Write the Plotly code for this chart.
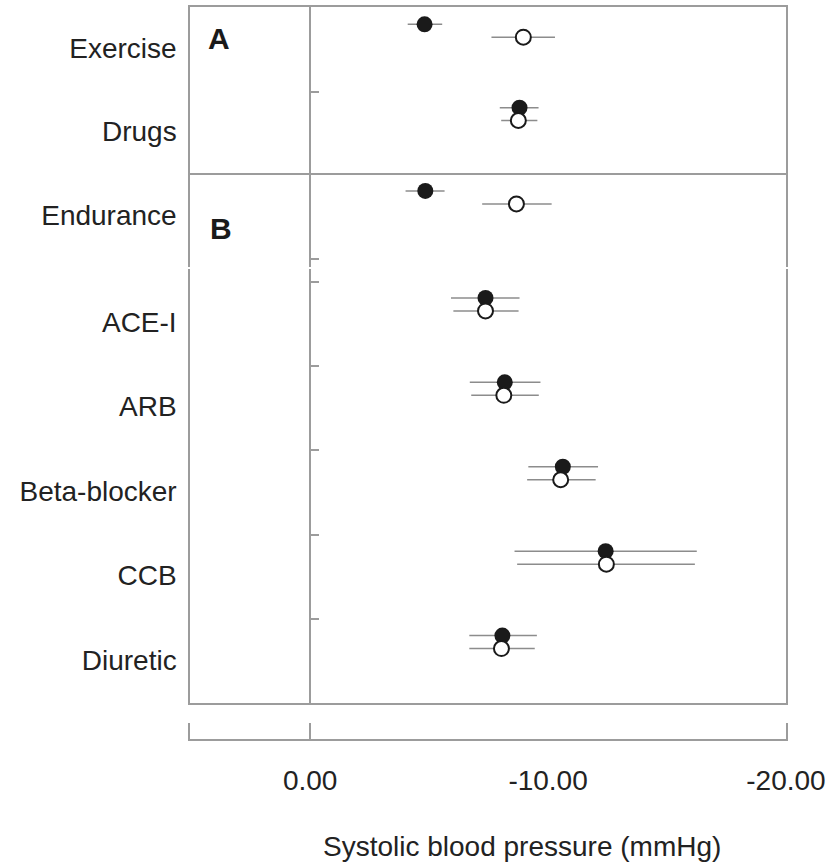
import plotly.graph_objects as go

# Systolic blood pressure change (mmHg): point estimate and 95% CI per intervention
panel_a = ["Exercise", "Drugs"]
panel_b_top = ["Endurance"]
panel_b = ["ACE-I", "ARB", "Beta-blocker", "CCB", "Diuretic"]

categories = panel_a + panel_b_top + panel_b

closed_mean = [-4.81, -8.80, -4.84, -7.37, -8.18, -10.62, -12.42, -8.08]
closed_lo = [-5.55, -9.60, -5.65, -8.80, -9.68, -12.10, -16.25, -9.53]
closed_hi = [-4.10, -7.97, -4.01, -5.92, -6.71, -9.17, -8.59, -6.69]

open_mean = [-8.96, -8.75, -8.67, -7.37, -8.14, -10.53, -12.45, -8.04]
open_lo = [-10.29, -9.55, -10.15, -8.76, -9.61, -12.00, -16.17, -9.44]
open_hi = [-7.62, -8.03, -7.23, -6.02, -6.77, -9.12, -8.70, -6.69]

x_ticks = [0, -10, -20]
x_ticktext = ["0.00", "-10.00", "-20.00"]
x_title = "Systolic blood pressure (mmHg)"

W, H = 836, 862
FONT = "Liberation Sans, Arial, sans-serif"
TEXT = "#222222"
FRAME = "#9c9c9c"
BAR = "#8c8c8c"
X_RANGE = [5.05, -20]
X_DOM = [190 / W, 786 / W]
ZERO_X = 310 / W


def ydom(top_px, bottom_px):
    return [1 - bottom_px / H, 1 - top_px / H]


# (names, axis suffix, domain in px, y range in row units, boundary ticks)
panels = [
    (panel_a, "", (7.3, 173.3), [1.711, -0.282], [0.73]),
    (panel_b_top, "2", (173.3, 267.3), [0.826, -0.285], [0.73]),
    (panel_b, "3", (268.7, 703.0), [4.722, -0.423], [-0.27, 0.73, 1.73, 2.73, 3.73]),
]

fig = go.Figure()
layout = dict(
    width=W, height=H, template="none",
    margin=dict(l=0, r=0, t=0, b=0),
    paper_bgcolor="white", plot_bgcolor="rgba(0,0,0,0)",
    showlegend=False,
    font=dict(family=FONT, color=TEXT, size=28),
)

start = 0
offset = 0.077
for k, (names, sfx, (top_px, bot_px), yr, bounds) in enumerate(panels):
    idx = list(range(start, start + len(names)))
    start += len(names)
    rows = list(range(len(names)))
    xa, ya = "x" + sfx, "y" + sfx
    tick_ax = str(5 + k)

    cm = [closed_mean[i] for i in idx]
    om = [open_mean[i] for i in idx]
    fig.add_trace(go.Scatter(
        x=cm, y=[r - offset for r in rows], xaxis=xa, yaxis=ya, mode="markers",
        marker=dict(symbol="circle", size=16, color="#1a1a1a", line=dict(width=0)),
        error_x=dict(type="data", symmetric=False,
                     array=[closed_hi[i] - closed_mean[i] for i in idx],
                     arrayminus=[closed_mean[i] - closed_lo[i] for i in idx],
                     color=BAR, thickness=1.5, width=0),
        hoverinfo="skip"))
    fig.add_trace(go.Scatter(
        x=om, y=[r + offset for r in rows], xaxis=xa, yaxis=ya, mode="markers",
        marker=dict(symbol="circle", size=15, color="white",
                    line=dict(width=2, color="#1a1a1a")),
        error_x=dict(type="data", symmetric=False,
                     array=[open_hi[i] - open_mean[i] for i in idx],
                     arrayminus=[open_mean[i] - open_lo[i] for i in idx],
                     color=BAR, thickness=1.5, width=0),
        hoverinfo="skip"))
    # short boundary ticks on the zero line
    fig.add_trace(go.Scatter(x=[None], y=[None], xaxis=xa, yaxis="y" + tick_ax,
                             hoverinfo="skip"))

    xaxis = dict(domain=X_DOM, range=X_RANGE, anchor=ya, showgrid=False,
                 zeroline=True, zerolinecolor=FRAME, zerolinewidth=1.5,
                 showticklabels=False, ticks="", showline=False,
                 linecolor=FRAME, linewidth=1.5, automargin=False, fixedrange=True)
    if k == 0:
        xaxis.update(showline=True, mirror=True)
    elif k == 2:
        xaxis.update(showline=True, mirror=False, side="bottom")
    layout["xaxis" + sfx] = xaxis

    layout["yaxis" + sfx] = dict(
        domain=ydom(top_px, bot_px), range=yr, anchor=xa,
        showgrid=False, zeroline=False, showline=True, mirror=True,
        linecolor=FRAME, linewidth=1.5,
        tickmode="array", tickvals=[r + 0.21 for r in rows], ticktext=names,
        ticks="", ticklabelstandoff=6,
        tickfont=dict(size=28, color=TEXT, family=FONT),
        automargin=False, fixedrange=True)
    layout["yaxis" + tick_ax] = dict(
        overlaying=ya, anchor="free", position=ZERO_X, side="left",
        range=yr, showgrid=False, zeroline=False, showline=False,
        tickmode="array", tickvals=bounds, ticks="inside", ticklen=8,
        tickwidth=1.5, tickcolor=FRAME, showticklabels=False,
        automargin=False, fixedrange=True)

# bottom scale strip
fig.add_trace(go.Scatter(x=[None], y=[None], xaxis="x4", yaxis="y4", hoverinfo="skip"))
layout["xaxis4"] = dict(
    domain=X_DOM, range=X_RANGE, anchor="y4", showgrid=False,
    zeroline=True, zerolinecolor=FRAME, zerolinewidth=1.5,
    showline=True, linecolor=FRAME, linewidth=1.5, mirror=False,
    tickmode="array", tickvals=x_ticks, ticktext=x_ticktext, ticks="",
    ticklabelstandoff=16, tickfont=dict(size=28, color=TEXT, family=FONT),
    automargin=False, fixedrange=True)
layout["yaxis4"] = dict(
    domain=ydom(723.3, 739.0), range=[0, 1], anchor="x4",
    showgrid=False, zeroline=False, showline=True, mirror=True,
    linecolor=FRAME, linewidth=1.5, showticklabels=False, ticks="",
    automargin=False, fixedrange=True)

layout["annotations"] = [
    dict(text=x_title, xref="paper", yref="paper", x=522 / W, y=1 - 846 / H,
         xanchor="center", yanchor="middle", showarrow=False,
         font=dict(size=28, color=TEXT, family=FONT)),
    dict(text="<b>A</b>", xref="paper", yref="paper", x=219 / W, y=1 - 39 / H,
         xanchor="center", yanchor="middle", showarrow=False,
         font=dict(size=30, color="#1a1a1a", family=FONT)),
    dict(text="<b>B</b>", xref="paper", yref="paper", x=221 / W, y=1 - 228 / H,
         xanchor="center", yanchor="middle", showarrow=False,
         font=dict(size=30, color="#1a1a1a", family=FONT)),
]

fig.update_layout(**layout)
fig.write_html("out.html", config={"displayModeBar": False})
